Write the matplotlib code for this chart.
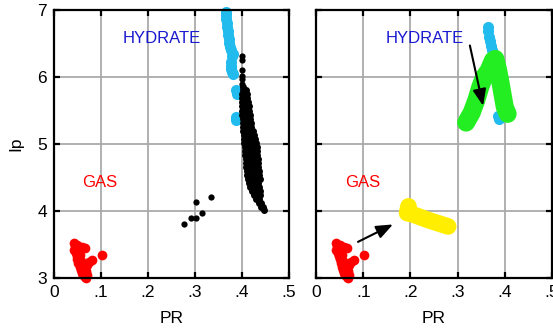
import matplotlib
matplotlib.use("Agg")
import matplotlib.pyplot as plt

plt.rcParams['font.family'] = ['Liberation Sans', 'DejaVu Sans']

# Gas-phase samples (red)
gas_pr = [0.042, 0.045, 0.043, 0.046, 0.048, 0.050, 0.052, 0.055, 0.057, 0.060,
          0.062, 0.065, 0.068, 0.070, 0.068, 0.065, 0.070, 0.075, 0.080, 0.060,
          0.065, 0.102, 0.050, 0.055, 0.058, 0.063]
gas_ip = [3.52, 3.48, 3.42, 3.38, 3.33, 3.28, 3.22, 3.17, 3.12, 3.08,
          3.04, 3.01, 3.00, 3.05, 3.10, 3.15, 3.20, 3.24, 3.27, 3.46,
          3.45, 3.35, 3.50, 3.35, 3.25, 3.20]

# Hydrate samples (cyan), left panel
hyd_pr = [0.366, 0.366, 0.367, 0.368, 0.369, 0.370, 0.371, 0.372, 0.373, 0.375,
          0.377, 0.380, 0.378, 0.377, 0.376, 0.377, 0.379, 0.381, 0.388, 0.390,
          0.388, 0.387]
hyd_ip = [6.97, 6.92, 6.86, 6.80, 6.74, 6.68, 6.62, 6.56, 6.50, 6.45,
          6.40, 6.35, 6.32, 6.22, 6.17, 6.12, 6.07, 6.04, 5.81, 5.75,
          5.40, 5.36]

# Hydrate samples (cyan), right panel
hyd2_pr = [0.364, 0.365, 0.367, 0.369, 0.371, 0.373, 0.386, 0.387]
hyd2_ip = [6.75, 6.68, 6.60, 6.53, 6.46, 6.40, 5.42, 5.38]

# Mixed samples (black): main band rows of (Ip, [PR values])
band_rows = [
    (5.85, [0.403]),
    (5.80, [0.402, 0.408]),
    (5.74, [0.401, 0.406, 0.411]),
    (5.68, [0.400, 0.405, 0.411]),
    (5.62, [0.401, 0.406, 0.412]),
    (5.56, [0.400, 0.407, 0.414]),
    (5.50, [0.401, 0.408, 0.415]),
    (5.44, [0.401, 0.409, 0.416]),
    (5.38, [0.402, 0.410, 0.418]),
    (5.32, [0.402, 0.410, 0.419]),
    (5.26, [0.403, 0.411, 0.420]),
    (5.20, [0.403, 0.412, 0.421, 0.424]),
    (5.14, [0.404, 0.413, 0.422, 0.425]),
    (5.08, [0.404, 0.414, 0.423, 0.428]),
    (5.02, [0.405, 0.415, 0.424, 0.429]),
    (4.96, [0.406, 0.416, 0.425, 0.431]),
    (4.90, [0.406, 0.417, 0.426, 0.432]),
    (4.84, [0.407, 0.418, 0.427, 0.432]),
    (4.78, [0.408, 0.419, 0.428, 0.434]),
    (4.72, [0.408, 0.420, 0.429, 0.435]),
    (4.66, [0.409, 0.421, 0.430, 0.434]),
    (4.60, [0.410, 0.422, 0.431, 0.436]),
    (4.54, [0.411, 0.423, 0.432, 0.437]),
    (4.48, [0.413, 0.424, 0.433, 0.438]),
    (4.42, [0.415, 0.426, 0.435]),
    (4.36, [0.418, 0.428, 0.437]),
    (4.30, [0.421, 0.430, 0.438]),
    (4.24, [0.425, 0.433, 0.439]),
    (4.18, [0.430, 0.437]),
    (4.12, [0.436, 0.441]),
    (4.06, [0.441, 0.445]),
    (4.02, [0.447]),
]
# Mixed samples: sparse points above the band and outliers
mix_pr = [0.400, 0.400, 0.400, 0.400, 0.401, 0.401,
          0.277, 0.291, 0.302, 0.302, 0.315, 0.334]
mix_ip = [6.32, 6.25, 6.10, 6.02, 5.97, 5.90,
          3.81, 3.90, 3.90, 4.13, 3.97, 4.21]

# Trajectories in the right panel
green_pr = [0.318, 0.330, 0.340, 0.348, 0.356, 0.366, 0.375, 0.380, 0.385, 0.390, 0.395, 0.400, 0.406]
green_ip = [5.32, 5.47, 5.66, 5.85, 6.00, 6.10, 6.25, 6.27, 6.13, 5.95, 5.75, 5.55, 5.45]
yellow_pr = [0.196, 0.193, 0.205, 0.240, 0.280]
yellow_ip = [4.07, 3.97, 3.95, 3.86, 3.77]

# Arrows (tail, head)
arrows = [((0.089, 3.54), (0.163, 3.80)),
          ((0.326, 6.47), (0.354, 5.57))]

xticks = [0, 0.1, 0.2, 0.3, 0.4, 0.5]
xticklabels = ['0', '.1', '.2', '.3', '.4', '.5']
yticks = [3, 4, 5, 6, 7]

fig = plt.figure(figsize=(5.53, 3.33), dpi=100)
ax1 = fig.add_axes([0.0976, 0.165, 0.425, 0.805])
ax2 = fig.add_axes([0.5714, 0.165, 0.4268, 0.805])

band_pr = [x for _, xs in band_rows for x in xs]
band_ip = [y for y, xs in band_rows for _ in xs]

for ax in (ax1, ax2):
    ax.set_xlim(0, 0.5)
    ax.set_ylim(3, 7)
    ax.set_xticks(xticks)
    ax.set_xticklabels(xticklabels)
    ax.set_yticks(yticks)
    ax.grid(True, color='#aaaaaa', lw=1.3)
    ax.set_axisbelow(True)
    for s in ax.spines.values():
        s.set_linewidth(1.6)
    ax.tick_params(direction='in', length=4, width=1.6, top=True, right=True,
                   labelsize=12.5, pad=5)
    ax.set_xlabel('PR', fontsize=12.5, labelpad=8)
    ax.plot(gas_pr, gas_ip, 'o', color='#ff0000', ms=7, mec='none', clip_on=False)
    ax.text(0.098, 4.43, 'GAS', color='#ff0000', fontsize=12, ha='center', va='center')
    ax.text(0.230, 6.58, 'HYDRATE', color='#1a1ad0', fontsize=12, ha='center', va='center')

ax1.set_ylabel('Ip', fontsize=12.5, labelpad=10)
ax1.plot(hyd_pr, hyd_ip, 'o', color='#22bbee', ms=8, mec='none', clip_on=False)
ax1.plot(band_pr, band_ip, 'o', color='black', ms=5, mec='none')
ax1.plot(mix_pr, mix_ip, 'o', color='black', ms=4.5, mec='none')

ax2.tick_params(labelleft=False)
ax2.plot(hyd2_pr, hyd2_ip, 'o', color='#22bbee', ms=8, mec='none')
ax2.plot(green_pr, green_ip, '-', color='#22ee22', lw=13,
         solid_capstyle='round', solid_joinstyle='round')
ax2.plot(yellow_pr, yellow_ip, '-', color='#ffee00', lw=12,
         solid_capstyle='round', solid_joinstyle='round')
for tail, head in arrows:
    ax2.annotate('', xy=head, xytext=tail,
                 arrowprops=dict(arrowstyle='-|>,head_length=1.0,head_width=0.4',
                                 color='black', lw=1.5, shrinkA=0, shrinkB=0))

fig.savefig('out.png', dpi=100)
